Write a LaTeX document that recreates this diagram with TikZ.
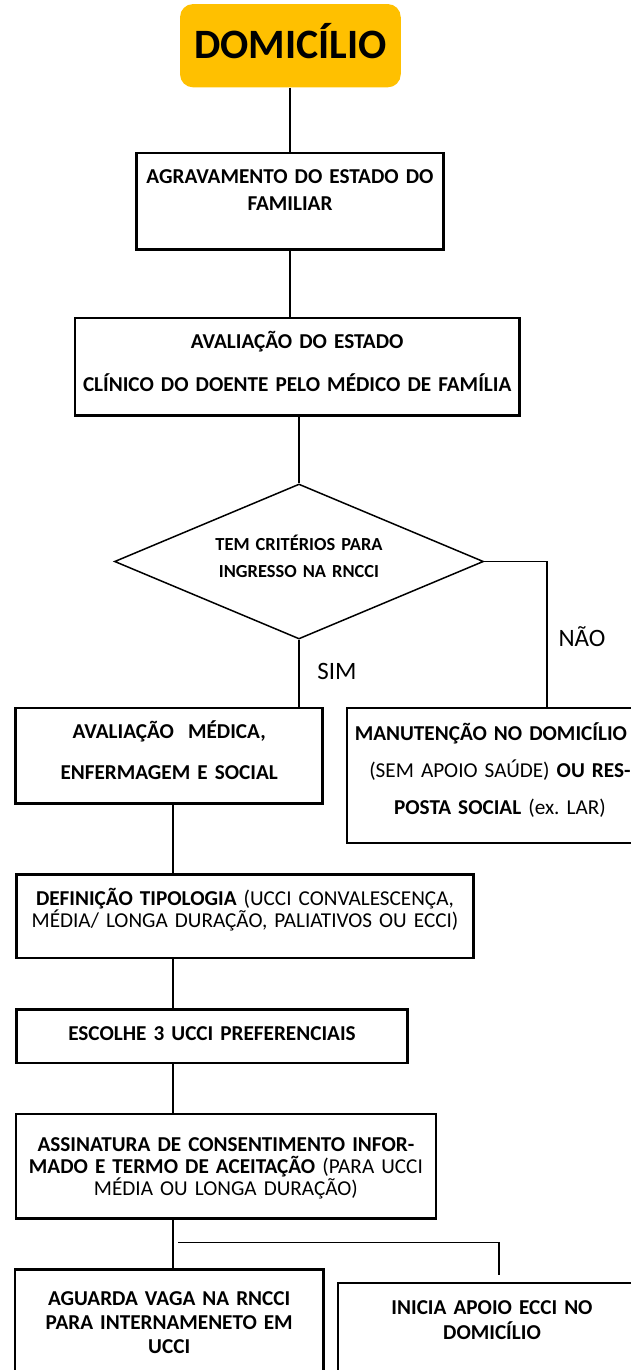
\documentclass[tikz,border=0pt]{standalone}
\usepackage{fontspec}
\setmainfont{Carlito}
\usepackage{tikz}
\usetikzlibrary{shapes,positioning}
\definecolor{homegold}{HTML}{FFC000}
\setlength{\lineskiplimit}{-30pt}

\begin{document}
\begin{tikzpicture}[
    x=1pt, y=-1pt,
    thick,
    home node/.style={rectangle,rounded corners=13pt,fill=homegold,inner sep=0pt,minimum width=220.7pt,minimum height=83.3pt,text height=26.4pt,text depth=0pt,font=\fontsize{41.8}{50}\selectfont\bfseries},
    step node/.style={rectangle,draw,line width=2.5pt,inner sep=0pt,anchor=north,align=center},
    decision node/.style={diamond,draw,line width=1.5pt,inner sep=0pt,aspect=2.38,minimum width=369pt,minimum height=155pt,align=center,text width=200pt,text height=13pt,text depth=35pt,font=\fontsize{18.4}{26.7}\selectfont\bfseries},
    answer node/.style={text height=15.8pt,text depth=0pt,inner sep=0pt,font=\fontsize{25}{30}\selectfont},
    link/.style={line width=2pt},
    thin link/.style={line width=1.5pt}
]
\useasboundingbox (0,0) rectangle (631,1370);
\clip (0,0) rectangle (631,1370);

% Start
\node[home node] (domic) at (290.4,45.7) {DOMICÍLIO};

% First assessment
\node[step node, text width=306.6pt, text height=30.7pt, text depth=65.9pt, font=\fontsize{21.2}{27}\selectfont\bfseries] (agrav) at (290,151.7) {AGRAVAMENTO DO ESTADO DO\\FAMILIAR};
\node[step node, text width=444.3pt, text height=30.7pt, text depth=66.6pt, font=\fontsize{21.2}{43.3}\selectfont\bfseries] (aval) at (297.2,316.7) {AVALIAÇÃO DO ESTADO\\CLÍNICO DO DOENTE PELO MÉDICO DE FAMÍLIA};

% Decision
\node[decision node] (crit) at (299,561.5) {TEM CRITÉRIOS PARA\\INGRESSO NA RNCCI};
\node[answer node] (sim) at (337,671.7) {SIM};
\node[answer node] (nao) at (582,638.3) {NÃO};

% Two outcomes
\node[step node, text width=307pt, text height=30.7pt, text depth=64.9pt, font=\fontsize{21.2}{41}\selectfont\bfseries] (avalmed) at (169.2,706.7) {AVALIAÇÃO\ \ MÉDICA,\\ENFERMAGEM E SOCIAL};
\node[step node, text width=306.3pt, text height=32.4pt, text depth=102.6pt, font=\fontsize{21.2}{37}\selectfont] (manut) at (499.9,706.7) {\textbf{MANUTENÇÃO NO DOMICÍLIO}\kern18pt\null\\(SEM APOIO SAÚDE) \textbf{OU RES-}\\\textbf{POSTA SOCIAL} (ex.\ LAR)};

% Referral steps
\node[step node, text width=456.6pt, text height=31.1pt, text depth=52.3pt, font=\fontsize{21.2}{21.6}\selectfont] (defin) at (245,873.3) {\textbf{DEFINIÇÃO TIPOLOGIA} (UCCI CONVALESCENÇA,\\MÉDIA/ LONGA DURAÇÃO, PALIATIVOS OU ECCI)};
\node[step node, text width=390.6pt, text height=30.7pt, text depth=22.7pt, font=\fontsize{21.2}{25}\selectfont\bfseries] (escol) at (212,1008.3) {ESCOLHE 3 UCCI PREFERENCIAIS};
\node[step node, text width=420.3pt, text height=37.3pt, text depth=67.3pt, font=\fontsize{21.2}{22}\selectfont] (assin) at (225.9,1112.7) {\textbf{ASSINATURA DE CONSENTIMENTO INFOR-}\\\textbf{MADO E TERMO DE ACEITAÇÃO} (PARA UCCI\\MÉDIA OU LONGA DURAÇÃO)};

% Final outcomes
\node[step node, text width=308.3pt, text height=36.1pt, text depth=95.6pt, font=\fontsize{21.2}{24}\selectfont\bfseries] (aguar) at (169.2,1268.3) {AGUARDA VAGA NA RNCCI\\PARA INTERNAMENETO EM\\UCCI};
\node[step node, text width=308.6pt, text height=31.1pt, text depth=86.6pt, line width=2pt, font=\fontsize{21.2}{25}\selectfont\bfseries] (inicia) at (492,1282.3) {INICIA APOIO ECCI NO\\DOMICÍLIO};

% Links
\coordinate (trunk) at (173,0);
\coordinate (fork) at (178.3,1242.5);

\draw[link] (domic.south) -- (domic.south |- agrav.north);
\draw[link] (agrav.south) -- (agrav.south |- aval.north);
\draw[link] (crit.north |- aval.south) -- (crit.north);

\draw[link] (crit.south) -- (crit.south |- avalmed.north);
\draw[thin link] (crit.east) -| ([xshift=47pt]manut.north);

\draw[link] (avalmed.south -| trunk) -- (defin.north -| trunk);
\draw[link] (defin.south -| trunk) -- (escol.north -| trunk);
\draw[link] (escol.south -| trunk) -- (assin.north -| trunk);
\draw[link] (assin.south -| trunk) -- (aguar.north -| trunk);
\draw[thin link] (fork) -| ([xshift=7pt,yshift=7pt]inicia.north);

\end{tikzpicture}
\end{document}
